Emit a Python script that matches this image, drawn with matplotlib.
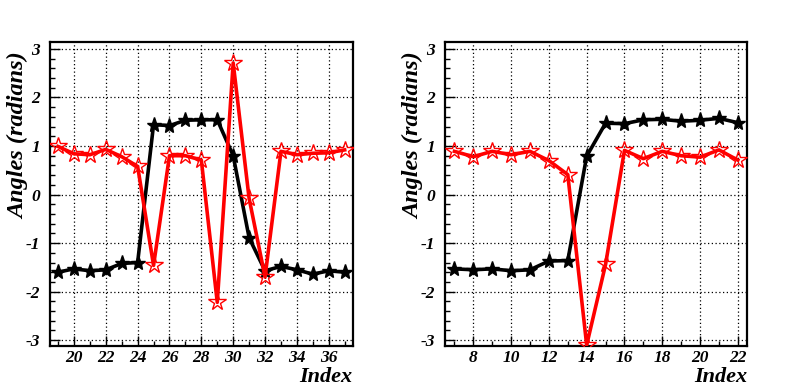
import matplotlib.pyplot as plt
from matplotlib.ticker import MultipleLocator

plt.rcParams['axes.unicode_minus'] = False

# left panel data
idx_a = [19, 20, 21, 22, 23, 24, 25, 26, 27, 28, 29, 30, 31, 32, 33, 34, 35, 36, 37]
black_a = [-1.60, -1.53, -1.57, -1.55, -1.42, -1.40, 1.44, 1.42, 1.53, 1.54,
           1.54, 0.80, -0.89, -1.57, -1.48, -1.55, -1.64, -1.57, -1.60]
red_a = [0.99, 0.84, 0.82, 0.93, 0.78, 0.58, -1.46, 0.80, 0.80, 0.71,
         -2.22, 2.71, -0.08, -1.70, 0.89, 0.82, 0.85, 0.86, 0.92]

# right panel data
idx_b = [7, 8, 9, 10, 11, 12, 13, 14, 15, 16, 17, 18, 19, 20, 21, 22]
black_b = [-1.53, -1.55, -1.53, -1.57, -1.55, -1.37, -1.36, 0.79,
           1.47, 1.46, 1.54, 1.55, 1.51, 1.53, 1.57, 1.48]
red_b = [0.89, 0.78, 0.89, 0.82, 0.89, 0.70, 0.41, -3.10,
         -1.44, 0.91, 0.74, 0.89, 0.80, 0.77, 0.92, 0.71]

font = dict(family='Liberation Serif', weight='bold', style='italic')

fig = plt.figure(figsize=(7.88, 3.89), dpi=100)
ax1 = fig.add_axes([0.0635, 0.1105, 0.384, 0.7825])
ax2 = fig.add_axes([0.5647, 0.1105, 0.3836, 0.7825])


def draw(ax, x, yb, yr, xlim):
    ax.plot(x, yb, color='black', lw=2.6, marker='*', ms=11,
            mfc='black', mec='black', zorder=3)
    ax.plot(x, yr, color='red', lw=2.6, marker='*', ms=13,
            mfc='none', mec='red', mew=1.0, zorder=4)
    ax.set_xlim(*xlim)
    ax.set_ylim(-3.12, 3.15)
    ax.xaxis.set_major_locator(MultipleLocator(2))
    ax.xaxis.set_minor_locator(MultipleLocator(1))
    ax.yaxis.set_major_locator(MultipleLocator(1))
    ax.yaxis.set_minor_locator(MultipleLocator(0.2))
    ax.grid(True, which='major', color='black', ls=(0, (1, 2)), lw=0.9)
    ax.tick_params(which='major', direction='in', length=7, width=1.0,
                   top=False, right=False)
    ax.tick_params(which='minor', direction='in', length=3.5, width=1.0,
                   top=False, right=False)
    ax.tick_params(axis='x', which='major', pad=3)
    ax.tick_params(axis='y', which='major', pad=7)
    for s in ax.spines.values():
        s.set_linewidth(1.6)
    for lab in ax.get_xticklabels() + ax.get_yticklabels():
        lab.set_fontproperties(font)
        lab.set_fontsize(12.5)
    ax.set_ylabel('Angles (radians)', fontsize=17.5, loc='top', **font)
    ax.yaxis.set_label_coords(-0.068, 0.965)
    ax.set_xlabel('Index', fontsize=16, loc='right', **font)
    ax.xaxis.set_label_coords(1.0, -0.07)


draw(ax1, idx_a, black_a, red_a, (18.5, 37.5))
draw(ax2, idx_b, black_b, red_b, (6.5, 22.5))

fig.savefig('out.png', dpi=100)
